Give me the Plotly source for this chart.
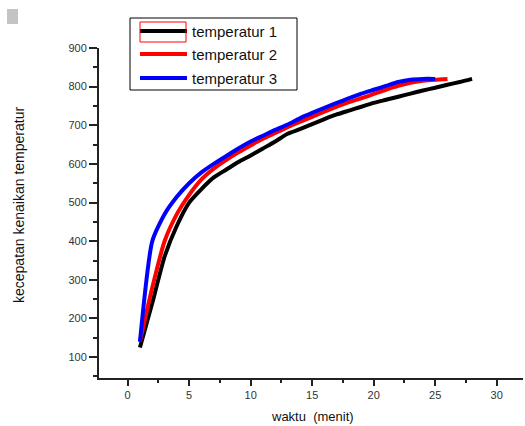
import plotly.graph_objects as go

# ---- data ----
names = ["temperatur 1", "temperatur 2", "temperatur 3"]
colors = ["#000000", "#ff0000", "#0000ff"]

t1_x = list(range(1, 29))
t1_y = [125, 240, 360, 440, 500, 535, 565, 585, 605, 622, 640, 658, 678, 690,
        703, 716, 728, 738, 748, 758, 766, 774, 782, 790, 797, 805, 812, 820]

t2_x = list(range(1, 27))
t2_y = [140, 280, 400, 470, 520, 560, 588, 610, 630, 648, 665, 680, 695, 709,
        722, 735, 748, 760, 770, 781, 792, 802, 810, 815, 818, 820]

t3_x = list(range(1, 26))
t3_y = [140, 400, 470, 515, 550, 578, 600, 620, 640, 658, 673, 688, 702, 718,
        732, 745, 758, 770, 782, 792, 802, 812, 818, 820, 820]

x_ticks = [0, 5, 10, 15, 20, 25, 30]
y_ticks = [100, 200, 300, 400, 500, 600, 700, 800, 900]

W, H = 525, 426
ML, MR, MT, MB = 99, 2, 48, 48
PW, PH = W - ML - MR, H - MT - MB


def px(x):
    return (x - ML) / PW


def py(y):
    return (H - MB - y) / PH


FONT = "Liberation Sans, Arial, sans-serif"

fig = go.Figure()
series = [(t1_x, t1_y), (t2_x, t2_y), (t3_x, t3_y)]
for (xs, ys), n, c in zip(series, names, colors):
    fig.add_trace(go.Scatter(x=xs, y=ys, mode="lines", name=n,
                             line=dict(color=c, width=4, shape="spline", smoothing=0.6),
                             showlegend=False))

shapes = []
annotations = []
# legend box
shapes.append(dict(type="rect", xref="paper", yref="paper",
                   x0=px(130), x1=px(297), y0=py(90), y1=py(18),
                   line=dict(color="#000000", width=1), fillcolor="white", layer="above"))
leg_y = [31, 54, 78]
for n, c, ly in zip(names, colors, leg_y):
    shapes.append(dict(type="line", xref="paper", yref="paper",
                       x0=px(140), x1=px(187), y0=py(ly), y1=py(ly),
                       line=dict(color=c, width=4), layer="above"))
    annotations.append(dict(text=n, xref="paper", yref="paper", x=px(190), y=py(ly),
                            xanchor="left", yanchor="middle", showarrow=False,
                            font=dict(family=FONT, size=15, color="#111111")))
# selection rectangle artifact around first legend sample
shapes.append(dict(type="rect", xref="paper", yref="paper",
                   x0=px(140), x1=px(186), y0=py(42), y1=py(22),
                   line=dict(color="#ff0000", width=1), layer="above"))
# gray square artifact
shapes.append(dict(type="rect", xref="paper", yref="paper",
                   x0=px(7), x1=px(18), y0=py(24), y1=py(9),
                   line=dict(width=0), fillcolor="#c4c4c4", layer="above"))

annotations.append(dict(text="kecepatan kenaikan temperatur", xref="paper", yref="paper",
                        x=px(19), y=py(205), textangle=-90, showarrow=False,
                        xanchor="center", yanchor="middle",
                        font=dict(family=FONT, size=14, color="#111111")))
annotations.append(dict(text="waktu  (menit)", xref="paper", yref="paper",
                        x=px(312), y=py(416), showarrow=False,
                        xanchor="center", yanchor="middle",
                        font=dict(family=FONT, size=13, color="#111111")))

fig.update_layout(
    width=W, height=H,
    margin=dict(l=ML, r=MR, t=MT, b=MB),
    plot_bgcolor="white", paper_bgcolor="white",
    shapes=shapes, annotations=annotations,
    showlegend=False,
    xaxis=dict(range=[-2.33, -2.33 + PW / 12.3], showgrid=False, zeroline=False,
               showline=True, linecolor="#222222", linewidth=2,
               tickmode="array", tickvals=x_ticks, ticktext=[str(v) for v in x_ticks],
               ticks="outside", ticklen=6, tickwidth=2, tickcolor="#222222",
               minor=dict(dtick=2.5, tick0=0, ticks="outside", ticklen=3, tickwidth=2,
                          tickcolor="#222222", showgrid=False),
               tickfont=dict(family=FONT, size=11, color="#333333")),
    yaxis=dict(range=[46, 900], showgrid=False, zeroline=False,
               showline=True, linecolor="#222222", linewidth=2,
               tickmode="array", tickvals=y_ticks, ticktext=[str(v) for v in y_ticks],
               ticks="outside", ticklen=8, tickwidth=2, tickcolor="#222222",
               minor=dict(dtick=50, tick0=0, ticks="outside", ticklen=4, tickwidth=2,
                          tickcolor="#222222", showgrid=False),
               tickfont=dict(family=FONT, size=11, color="#333333")),
)

fig.write_html("out.html")
